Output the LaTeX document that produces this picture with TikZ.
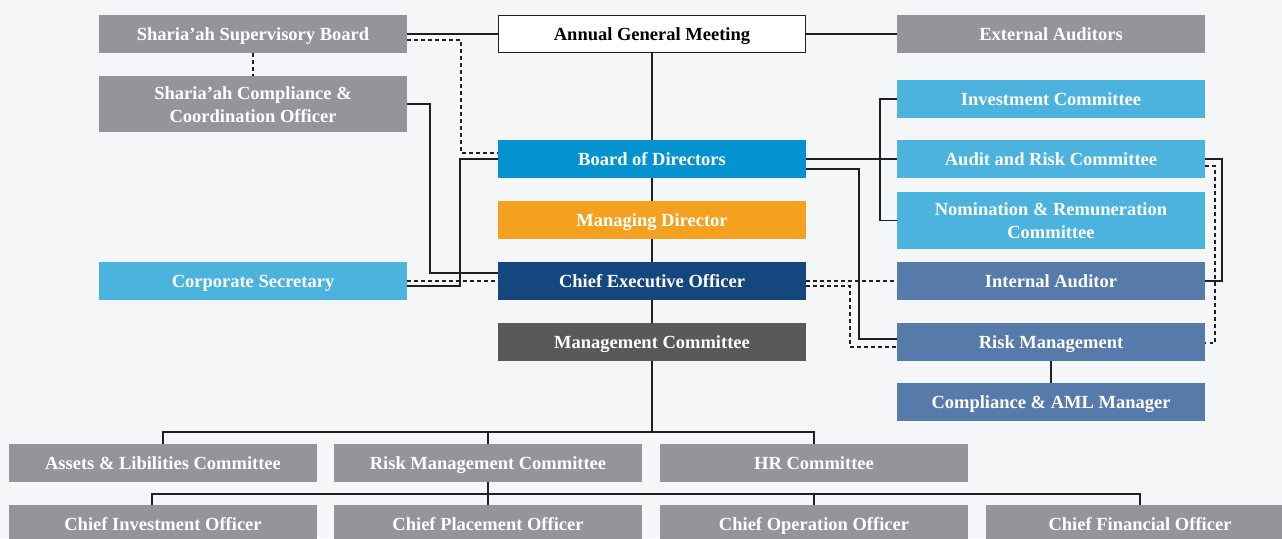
\documentclass[tikz,border=0pt]{standalone}
\usepackage{fontspec}
\setmainfont{Liberation Serif}

\definecolor{bgpage}{HTML}{F5F6F8}
\definecolor{boxgray}{HTML}{939598}
\definecolor{boardblue}{HTML}{0593CF}
\definecolor{mdorange}{HTML}{F4A11F}
\definecolor{ceoblue}{HTML}{15477F}
\definecolor{mcgray}{HTML}{58595B}
\definecolor{commblue}{HTML}{4BB3DE}
\definecolor{auditblue}{HTML}{567BAA}
\definecolor{linegray}{HTML}{231F20}

\begin{document}
\begin{tikzpicture}[x=1pt,y=-1pt,
  unit/.style={rectangle,minimum width=308pt,minimum height=38pt,
    inner sep=0pt,outer sep=0pt,text=white,align=center,
    text height=14pt,text depth=1pt,
    font=\fontsize{18.5}{23}\selectfont\bfseries},
  twoline/.style={text height=37pt,text depth=1pt},
  link/.style={draw=linegray,line width=1.2pt},
  dsh/.style={draw=linegray,line width=1.2pt,dash pattern=on 3.5pt off 3.5pt}]
\fill[bgpage] (0,0) rectangle (1282,538);
\clip (0,0) rectangle (1282,538);

% top row
\node (ssb) at (253,34) [unit,fill=boxgray] {Sharia'ah Supervisory Board};
\node (agm) at (652,34) [unit,fill=white,draw=linegray,line width=1.2pt,
  minimum width=307pt,minimum height=37pt,text=black] {Annual General Meeting};
\node (ext) at (1051,34) [unit,fill=boxgray] {External Auditors};

% board level
\node (sco) at (253,104) [unit,twoline,fill=boxgray,minimum height=56pt]
  {Sharia'ah Compliance \&\\Coordination Officer};
\node (inv) at (1051,99) [unit,fill=commblue] {Investment Committee};
\node (bod) at (652,159) [unit,fill=boardblue] {Board of Directors};
\node (arc) at (1051,159) [unit,fill=commblue] {Audit and Risk Committee};
\node (md) at (652,220) [unit,fill=mdorange] {Managing Director};
\node (nrc) at (1051,220.5) [unit,twoline,fill=commblue,minimum height=57pt]
  {Nomination \& Remuneration\\Committee};

% management level
\node (cs) at (253,281) [unit,fill=commblue] {Corporate Secretary};
\node (ceo) at (652,281) [unit,fill=ceoblue] {Chief Executive Officer};
\node (ia) at (1051,281) [unit,fill=auditblue] {Internal Auditor};
\node (mc) at (652,342) [unit,fill=mcgray] {Management Committee};
\node (rm) at (1051,342) [unit,fill=auditblue] {Risk Management};
\node (aml) at (1051,402) [unit,fill=auditblue] {Compliance \& AML Manager};

% committees and officers
\node (alc) at (163,463) [unit,fill=boxgray] {Assets \& Libilities Committee};
\node (rmc) at (488,463) [unit,fill=boxgray] {Risk Management Committee};
\node (hrc) at (814,463) [unit,fill=boxgray] {HR Committee};
\node (cio) at (163,524) [unit,fill=boxgray] {Chief Investment Officer};
\node (cpo) at (488,524) [unit,fill=boxgray] {Chief Placement Officer};
\node (coo) at (814,524) [unit,fill=boxgray] {Chief Operation Officer};
\node (cfo) at (1140,524) [unit,fill=boxgray] {Chief Financial Officer};

% main chain
\draw[link] (ssb) -- (agm);
\draw[link] (agm) -- (ext);
\draw[link] (agm) -- (bod);
\draw[link] (bod) -- (md);
\draw[link] (md) -- (ceo);
\draw[link] (ceo) -- (mc);
\draw[link] (mc.south) -- ++(0,71) -| (alc.north);
\draw[link] (mc.south) ++(0,71) -| (hrc.north);
\draw[link] (rmc.north) -- ++(0,-12);
\draw[link] (rmc.south) -- ++(0,12) -| ([xshift=-11pt]cio.north);
\draw[link] (rmc.south) ++(0,12) -| (cfo.north);
\draw[link] (coo.north) -- ++(0,-11);
\draw[link] (cpo.north) -- ++(0,-11);

% sharia'ah side
\draw[dsh] (ssb) -- (sco);
\draw[dsh] ([yshift=-6pt]ssb.east) -- ++(54,0) |- ([yshift=6pt]bod.west);
\draw[link] (sco.east) -- ++(23,0) |- ([yshift=8pt]ceo.west);
\draw[link] (bod.west) -- ++(-38,0) |- ([yshift=-5pt]cs.east);
\draw[dsh] (cs) -- (ceo);

% board committees
\draw[link] (bod) -- (arc);
\draw[link] (inv.west) -- ++(-17,0) |- (nrc.west);
\draw[link] ([yshift=-10pt]bod.east) -- ++(53,0) |- ([yshift=3pt]rm.west);
\draw[link] (arc.east) -- ++(17,0) |- (ia.east);
\draw[dsh] ([yshift=-7pt]arc.east) -- ++(10,0) |- ([yshift=-1pt]rm.east);

% audit and risk lines
\draw[dsh] (ceo) -- (ia);
\draw[dsh] ([yshift=-5pt]ceo.east) -- ++(44,0) |- ([yshift=-5pt]rm.west);
\draw[link] (rm) -- (aml);
\end{tikzpicture}
\end{document}
